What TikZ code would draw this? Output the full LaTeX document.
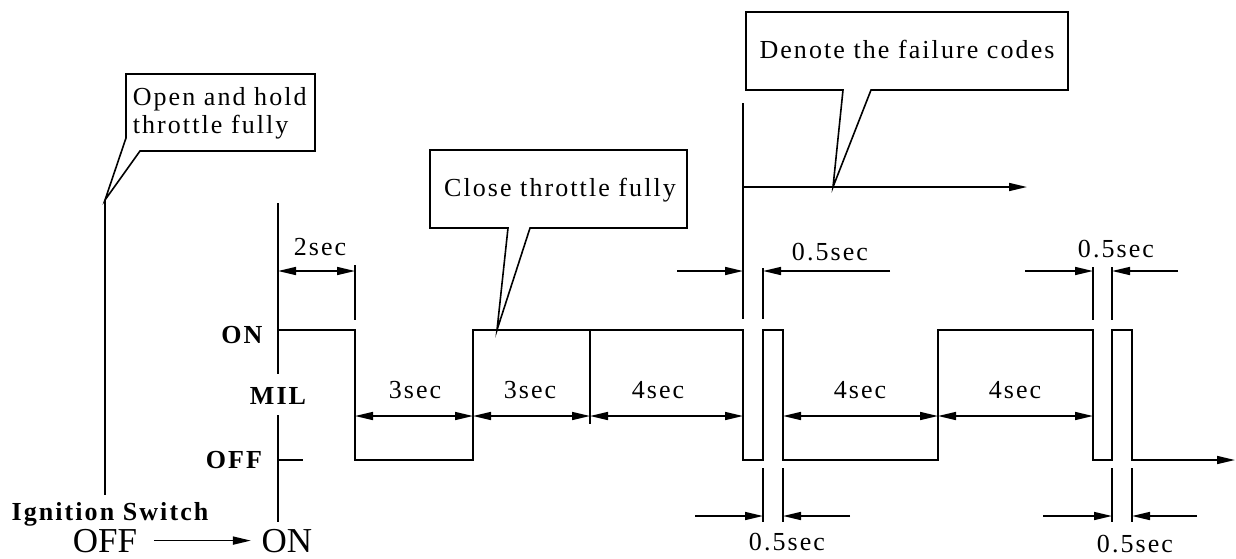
\documentclass[tikz,border=0pt]{standalone}
\usepackage{fontspec}
\setmainfont{Liberation Serif}
\newfontfamily\spaced{Liberation Serif}[LetterSpace=8]
\usetikzlibrary{arrows.meta, positioning}

\begin{document}
\begin{tikzpicture}[
  x=1pt, y=-1pt,
  line width=1.6pt,
  txt/.style={font=\spaced\fontsize{26}{28}\selectfont, inner sep=0pt, anchor=base},
  lvl/.style={font=\spaced\bfseries\fontsize{26}{28}\selectfont, inner sep=0pt, anchor=base},
  big/.style={font=\fontsize{35}{38}\selectfont, inner sep=0pt, anchor=base},
  callout/.style={draw, fill=white, line join=miter},
  arrow/.style={-{Triangle[length=18pt,width=8pt]}},
  dim/.style={{Triangle[length=18pt,width=8pt]}-{Triangle[length=18pt,width=8pt]}}
]
\useasboundingbox (0,0) rectangle (1236,558);

% Callouts
\draw[callout] (126,74) -- (315,74) -- (315,151) -- (140,151) -- (105,200) -- (126,138) -- cycle;
\draw[callout] (430,150) -- (687,150) -- (687,228) -- (530,228) -- (497,330) -- (508,228) -- (430,228) -- cycle;
\draw[callout] (746,12) -- (1068,12) -- (1068,90) -- (871,90) -- (833,187) -- (843,90) -- (746,90) -- cycle;

% Nodes
\node[txt, anchor=base west, align=left] (open) at (132,133) {Open and hold\\throttle fully};
\node[txt] (close) at (560,196) {Close throttle fully};
\node[txt] (codes) at (907,58) {Denote the failure codes};
\node[lvl] (on) at (242,343) {ON};
\node[lvl] (mil) at (278,404) {MIL};
\node[lvl] (off) at (234,468) {OFF};
\node[lvl] (ign) at (110,520) {Ignition Switch};
\node[big] (swoff) at (105,552) {OFF};
\node[big] (swon) at (287,552) {ON};
\node[txt] (d2) at (320,255) {2sec};
\node[txt] (d3a) at (415,398) {3sec};
\node[txt] (d3b) at (530,398) {3sec};
\node[txt] (d4a) at (658,398) {4sec};
\node[txt] (d4b) at (860,398) {4sec};
\node[txt] (d4c) at (1015,398) {4sec};
\node[txt] (h1) at (830,260) {0.5sec};
\node[txt] (h2) at (1116,257) {0.5sec};
\node[txt] (l1) at (787,550) {0.5sec};
\node[txt] (l2) at (1135,552) {0.5sec};

% Axes
\draw (105,200) -- (105,495);
\draw (278,203) -- (278,374);
\draw (278,415) -- (278,522);
\draw (278,460) -- (303,460);
\draw[arrow] ([xshift=16pt]swoff.east) -- ([xshift=-10pt]swon.west);

% MIL signal
\draw[line join=miter, arrow] (278,330) -- (355,330) -- (355,460) -- (473,460) -- (473,330)
  -- (743,330) -- (743,460) -- (763,460) -- (763,330) -- (783,330) -- (783,460)
  -- (938,460) -- (938,330) -- (1093,330) -- (1093,460) -- (1112,460) -- (1112,330)
  -- (1132,330) -- (1132,460) -- (1235,460);

% Extension lines
\draw (355,265) -- (355,320);
\draw (590,330) -- (590,424);
\draw (743,103) -- (743,319);
\draw (763,268) -- (763,319);
\draw (1093,267) -- (1093,320);
\draw (1112,267) -- (1112,320);
\foreach \x in {763,783,1112,1132}
  \draw (\x,468) -- (\x,522);

% Pointers
\draw[dim] (278,271) -- (355,271);
\draw[dim] (355,416) -- (473,416);
\draw[dim] (473,416) -- (590,416);
\draw[dim] (590,416) -- (743,416);
\draw[dim] (783,416) -- (938,416);
\draw[dim] (938,416) -- (1093,416);
\draw[arrow] (743,187) -- (1027,187);
\draw[arrow] (677,271) -- (743,271);
\draw[arrow] (890,271) -- (763,271);
\draw[arrow] (1025,271) -- (1093,271);
\draw[arrow] (1178,271) -- (1112,271);
\draw[arrow] (695,516) -- (763,516);
\draw[arrow] (850,516) -- (783,516);
\draw[arrow] (1043,516) -- (1112,516);
\draw[arrow] (1197,516) -- (1132,516);
\end{tikzpicture}
\end{document}
